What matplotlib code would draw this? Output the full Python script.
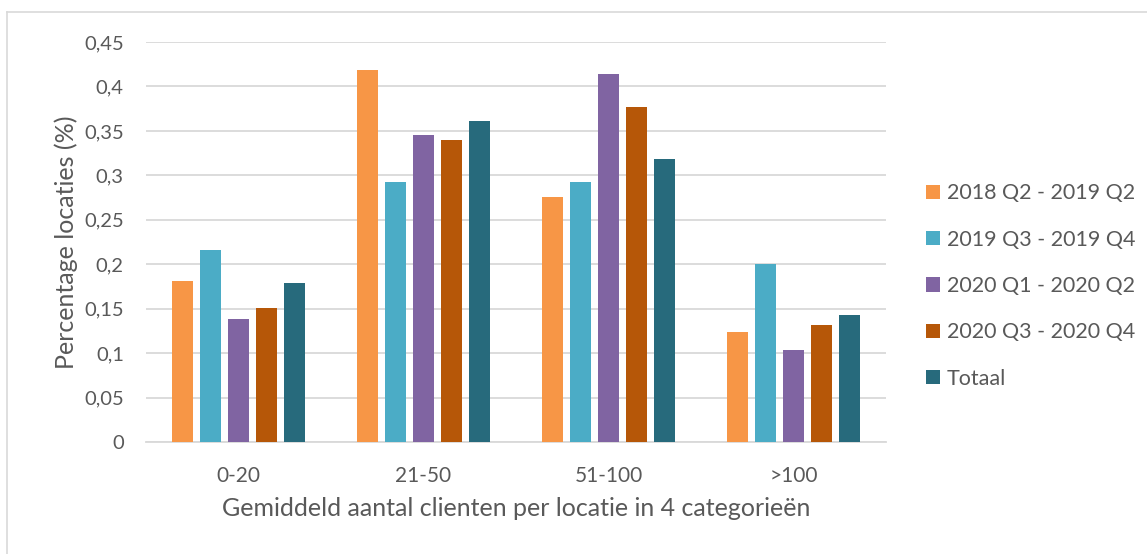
import matplotlib
matplotlib.use('Agg')
import matplotlib.pyplot as plt
import numpy as np
from matplotlib.lines import Line2D

plt.rcParams['font.family'] = ['Lato', 'DejaVu Sans']

# data
categories = ['0-20', '21-50', '51-100', '>100']
series = ['2018 Q2 - 2019 Q2', '2019 Q3 - 2019 Q4', '2020 Q1 - 2020 Q2',
          '2020 Q3 - 2020 Q4', 'Totaal']
v_2018q2 = [0.181, 0.419, 0.276, 0.124]
v_2019q3 = [0.216, 0.293, 0.293, 0.200]
v_2020q1 = [0.138, 0.345, 0.414, 0.104]
v_2020q3 = [0.151, 0.340, 0.377, 0.132]
v_totaal = [0.179, 0.361, 0.318, 0.143]
y_ticks = [0, 0.05, 0.1, 0.15, 0.2, 0.25, 0.3, 0.35, 0.4, 0.45]
y_labels = ['0', '0,05', '0,1', '0,15', '0,2', '0,25', '0,3', '0,35', '0,4', '0,45']

kleuren = ['#F79646', '#4BACC6', '#8064A2', '#B65708', '#276A7C']
tekst = '#595959'

fig = plt.figure(figsize=(11.47, 5.54), dpi=100)
ax = fig.add_axes([146/1147, 1 - 442/554, 740/1147, 400/554])

# rand om de grafiek
fig.add_artist(Line2D([7.5/1147, 7.5/1147], [0, 1 - 11.5/554],
                      transform=fig.transFigure, color='#D9D9D9', lw=1.2))
fig.add_artist(Line2D([7.5/1147, 1], [1 - 11.5/554, 1 - 11.5/554],
                      transform=fig.transFigure, color='#D9D9D9', lw=1.2))

x = np.arange(len(categories))
stap = 0.151
breedte = 0.113
alle = [v_2018q2, v_2019q3, v_2020q1, v_2020q3, v_totaal]
for i, (naam, waarden) in enumerate(zip(series, alle)):
    ax.bar(x + (i - 2) * stap, waarden, breedte, color=kleuren[i], label=naam,
           zorder=3)

ax.set_xlim(-0.5, 3.5)
ax.set_ylim(0, 0.45)
ax.set_yticks(y_ticks)
ax.set_yticklabels(y_labels)
ax.set_xticks(x)
ax.set_xticklabels(categories)
ax.yaxis.grid(True, color='#D9D9D9', lw=1.3, zorder=0)
for s in ['top', 'right', 'left']:
    ax.spines[s].set_visible(False)
ax.spines['bottom'].set_color('#D9D9D9')
ax.spines['bottom'].set_linewidth(1.3)
ax.tick_params(length=0, colors=tekst)
ax.tick_params(axis='x', pad=17, labelsize=15)
ax.tick_params(axis='y', pad=16, labelsize=14.5)

ax.set_xlabel('Gemiddeld aantal clienten per locatie in 4 categorieën',
              fontsize=18, color=tekst, labelpad=8)
ax.set_ylabel('Percentage locaties (%)', fontsize=18, color=tekst, labelpad=4)

leg = fig.legend(loc='center left', bbox_to_anchor=(907/1147, 1 - 286/554),
                 frameon=False, fontsize=15.5, handlelength=0.65, handleheight=0.65,
                 handletextpad=0.3, labelspacing=1.22)
for t in leg.get_texts():
    t.set_color(tekst)

fig.savefig('out.png', dpi=100)
